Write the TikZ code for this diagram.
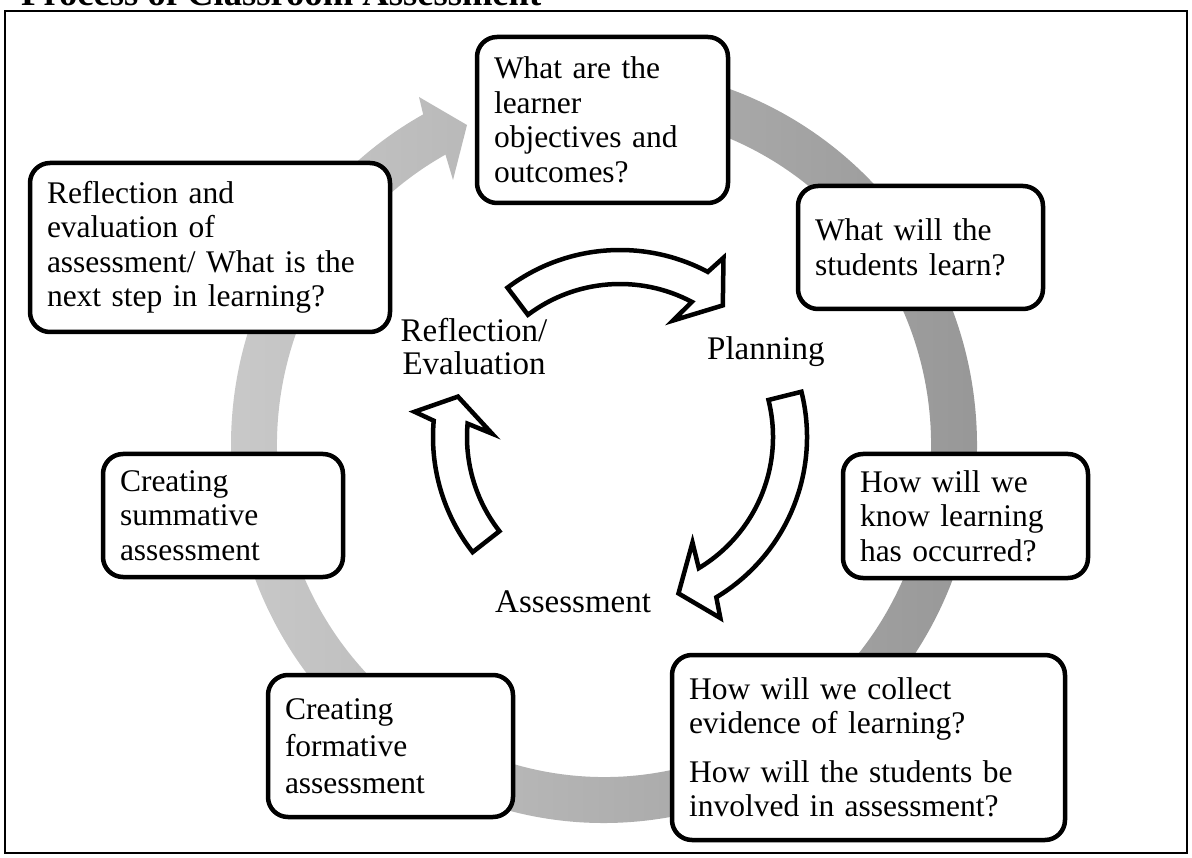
\documentclass[tikz,border=0pt]{standalone}
\usepackage{fontspec}
\setmainfont{Liberation Serif}
\begin{document}
\begin{tikzpicture}[x=1pt,y=1pt,
  qbox/.style={draw=black, line width=4.5pt, rounded corners=20pt, fill=white,
    align=left, inner xsep=17pt, inner ysep=0pt,
    font=\fontsize{31.5}{34.5}\selectfont},
  bendarrow/.style={draw=black, line width=4.5pt, fill=white, line join=miter},
  stagelbl/.style={inner sep=0pt, font=\fontsize{33}{33}\selectfont},
]
\useasboundingbox (0,0) rectangle (1192,-858);

% title and frame
\node[anchor=base west, inner sep=0pt, font=\bfseries\fontsize{36.6}{40}\selectfont]
  (title) at (21,-6) {Process of Classroom Assessment};
\draw[line width=2pt] (5,-11) rectangle (1187,-853);

% large shaded cycle arrow
\begin{scope}[shift={(604,-445)}]
  \path[left color=black!21, right color=black!41]
    (95:373 and 378) arc[start angle=95, end angle=-241, x radius=373, y radius=378]
    -- (-185,348) -- (-137,320) -- (-151,265)
    -- (-241:327 and 332) arc[start angle=-241, end angle=95, x radius=327, y radius=332]
    -- cycle;
\end{scope}

% question boxes around the cycle
\node[qbox, minimum width=251pt, minimum height=166pt, text width=217pt]
  (objectives) at (602.5,-120) {What are the\\learner\\objectives and\\outcomes?};
\node[qbox, minimum width=245pt, minimum height=123pt, text width=211pt]
  (learn) at (920.5,-247.5) {What will the\\students learn?};
\node[qbox, minimum width=245pt, minimum height=124pt, text width=211pt]
  (know) at (965.5,-516) {How will we\\know learning\\has occurred?};
\node[qbox, minimum width=393pt, minimum height=185pt, text width=359pt]
  (collect) at (868.5,-747.5) {How will we collect\\evidence of learning?\\[14pt]How will the students be\\involved in assessment?};
\node[qbox, minimum width=245pt, minimum height=142pt, text width=211pt,
  font=\fontsize{31.5}{37}\selectfont]
  (formative) at (390.5,-746) {Creating\\formative\\assessment};
\node[qbox, minimum width=240pt, minimum height=123pt, text width=206pt]
  (summative) at (223,-515.5) {Creating\\summative\\assessment};
\node[qbox, minimum width=360pt, minimum height=169pt, text width=326pt]
  (reflect) at (210,-247.5) {Reflection and\\evaluation of\\assessment/ What is the\\next step in learning?};

% inner cycle of block arrows
\begin{scope}[shift={(620,-437)}]
  \draw[bendarrow] (127:187) arc[start angle=127, end angle=62, radius=187]
    -- (60:207) -- (52:167) -- (65.5:128) -- (62:153)
    arc[start angle=62, end angle=127, radius=153] -- cycle;
  \draw[bendarrow] (14:187) arc[start angle=14, end angle=-59, radius=187]
    -- (-61:207) -- (-69.5:167) -- (-55.5:128) -- (-59:153)
    arc[start angle=-59, end angle=14, radius=153] -- cycle;
  \draw[bendarrow] (218:187) arc[start angle=218, end angle=175, radius=187]
    -- (173:207) -- (166:167) -- (178.5:128) -- (175:153)
    arc[start angle=175, end angle=218, radius=153] -- cycle;
\end{scope}

% stage labels
\node[stagelbl, anchor=base, text width=170pt, align=center]
  (reflection) at (474,-342) {Reflection/\\Evaluation};
\node[stagelbl, anchor=base west] (planning) at (707,-360) {Planning};
\node[stagelbl, anchor=base west] (assessment) at (495,-612) {Assessment};
\end{tikzpicture}
\end{document}
